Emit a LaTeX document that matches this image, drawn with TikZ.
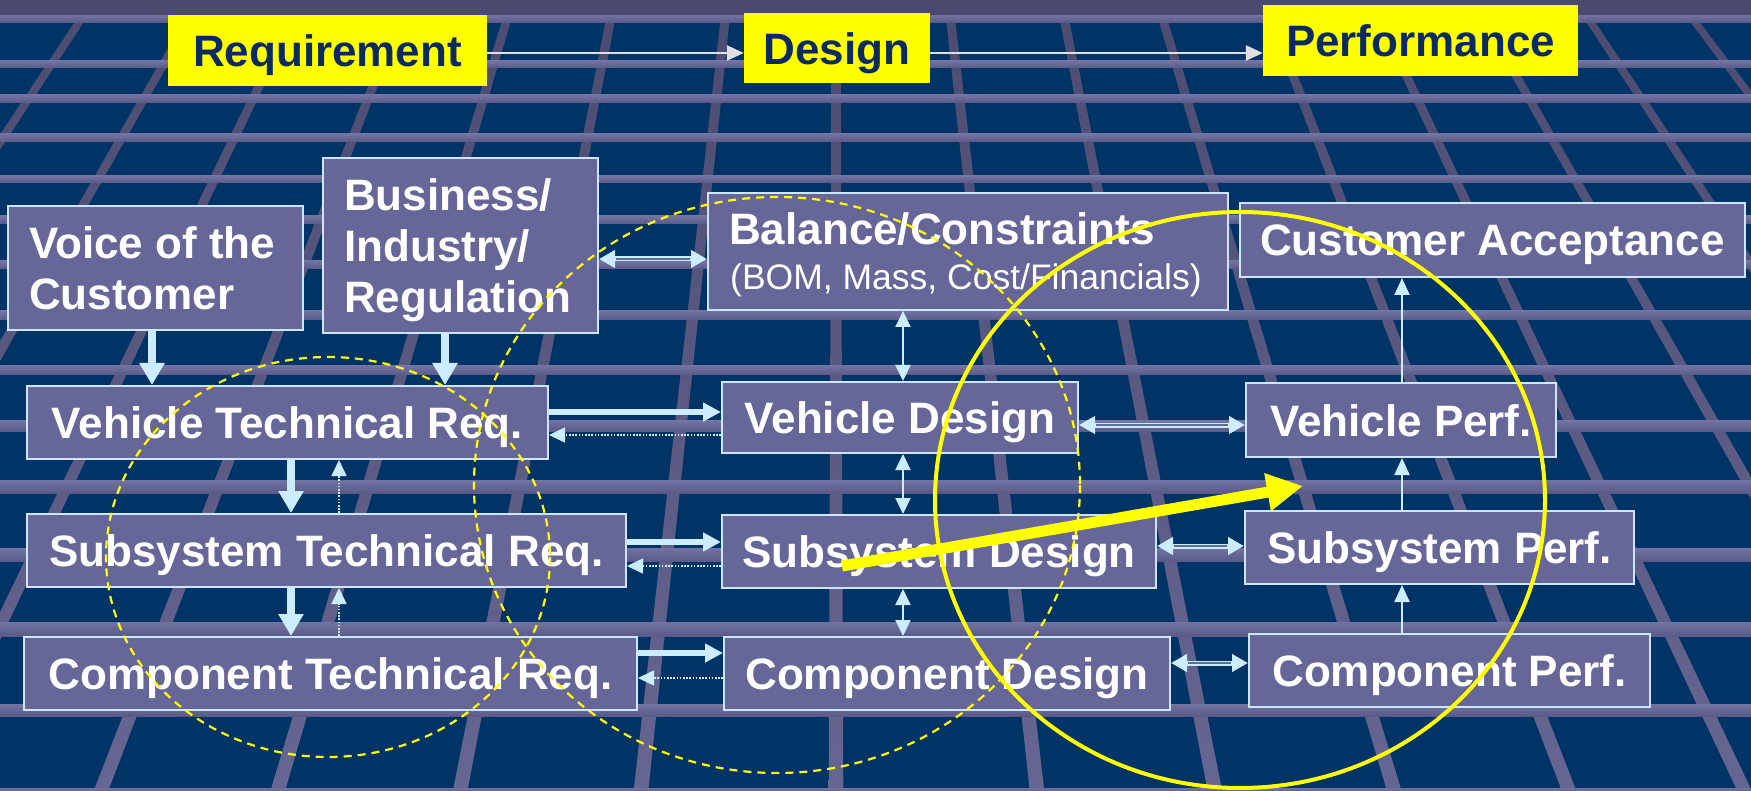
\documentclass[tikz,border=0pt]{standalone}
\usepackage{fontspec}
\setmainfont{Liberation Sans}
\usetikzlibrary{arrows.meta}
\definecolor{navy}{HTML}{003366}
\definecolor{boxfill}{HTML}{666699}
\definecolor{boxline}{HTML}{CCE6FF}
\definecolor{arrowblue}{HTML}{CCECFF}
\definecolor{bartop}{HTML}{7373A3}
\definecolor{barbot}{HTML}{5A5A88}
\definecolor{slanttop}{HTML}{4C4C72}
\definecolor{slantbot}{HTML}{666692}
\definecolor{topband}{HTML}{4A4A6E}
\definecolor{labelyellow}{HTML}{FFFF00}
\definecolor{labeltext}{HTML}{0B2B60}
\definecolor{hollow}{HTML}{5D6E9C}
\definecolor{topgray}{HTML}{E0E0E0}
\begin{document}
\begin{tikzpicture}[x=1pt,y=-1pt,
  box/.style={draw=boxline, line width=2pt, fill=boxfill, inner sep=0pt, text=white,
    font=\bfseries\fontsize{44pt}{51pt}\selectfont, text height=32pt, text depth=0pt},
  boxtext/.style={text=white, inner sep=0pt, anchor=base west,
    font=\bfseries\fontsize{44pt}{51pt}\selectfont},
  smalltext/.style={text=white, inner sep=0pt, anchor=base west,
    font=\fontsize{35.5pt}{40pt}\selectfont},
  ylabel/.style={fill=labelyellow, text=labeltext, inner sep=0pt,
    font=\bfseries\fontsize{44pt}{51pt}\selectfont, text height=33pt, text depth=0pt},
  thickV/.style={draw=arrowblue, line width=8pt, -{Triangle[length=22pt,width=24pt]}},
  thickH/.style={draw=arrowblue, line width=6pt, -{Triangle[length=18pt,width=18pt]}},
  dotret/.style={draw=arrowblue, line width=1.6pt, dash pattern=on 1.6pt off 1.6pt,
    -{Triangle[length=16pt,width=15pt]}},
  hollowH/.style={draw=arrowblue, line width=5pt,
    {Triangle[length=16pt,width=17pt]}-{Triangle[length=16pt,width=17pt]}},
  hollowin/.style={draw=hollow, line width=1.5pt, shorten <=17pt, shorten >=17pt},
  thinV/.style={draw=arrowblue, line width=2pt,
    {Triangle[length=16pt,width=15pt]}-{Triangle[length=16pt,width=15pt]}},
  thinUp/.style={draw=arrowblue, line width=2pt, -{Triangle[length=17pt,width=15pt]}},
  topArrow/.style={draw=topgray, line width=2.5pt, -{Triangle[length=17pt,width=15pt]}},
  dashring/.style={draw=labelyellow, line width=2.2pt, dash pattern=on 8pt off 6pt},
]
\useasboundingbox (0,0) rectangle (1751,791);
% background
\begin{scope}
\clip (0,0) rectangle (1751,791);
\fill[navy] (0,0) rectangle (1751,791);
\foreach \xa/\s in {-110/-0.75, 8/-0.66, 126/-0.57, 238/-0.48, 356/-0.386, 474/-0.297,
  589/-0.195, 713/-0.109, 836/0, 963/0.112, 1086/0.195, 1196/0.30, 1314/0.386,
  1432/0.473, 1547/0.57, 1662/0.66, 1776/0.75, 1890/0.84}
  \shade[top color=slanttop, bottom color=slantbot] ({\xa-130*(\s)-4.5},0) -- ({\xa-130*(\s)+4.5},0)
     -- ({\xa+661*(\s)+7.3},791) -- ({\xa+661*(\s)-7.3},791) -- cycle;
\foreach \a/\b in {15/23, 61/68, 95/103, 134/142, 176/183, 216/224, 261/269, 311/320,
  366/375, 421/431, 480/493, 548/561, 622/636, 704/716, 788/792}
  \shade[top color=bartop, bottom color=barbot] (0,\a) rectangle (1751,\b);
\fill[topband] (0,0) rectangle (1751,15);
\end{scope}

% header labels
\node[ylabel, minimum width=319pt, minimum height=71pt] (req) at (327.5,50.5) {Requirement};
\node[ylabel, minimum width=186pt, minimum height=70pt] (des) at (837,48) {Design};
\node[ylabel, minimum width=315pt, minimum height=71pt] (perf) at (1420.5,40.5) {Performance};

% boxes
\node[box, minimum width=295pt, minimum height=124pt] (voc) at (155.5,268) {};
\node[boxtext] (voc1) at (29,259) {Voice of the};
\node[boxtext] (voc2) at (29,310) {Customer};
\node[box, minimum width=275pt, minimum height=175pt] (bir) at (460.5,245.5) {};
\node[boxtext] (bir1) at (344,211) {Business/};
\node[boxtext] (bir2) at (344,262) {Industry/};
\node[boxtext] (bir3) at (344,313) {Regulation};
\node[box, minimum width=520pt, minimum height=117pt] (bal) at (968,251.5) {};
\node[boxtext] (bal1) at (729,245) {Balance/Constraints};
\node[smalltext] (bal2) at (730,290) {(BOM, Mass, Cost/Financials)};
\node[box, minimum width=505pt, minimum height=74pt] (ca) at (1492.5,240) {Customer Acceptance};
\node[box, minimum width=521pt, minimum height=73pt] (vtr) at (287.5,422.5) {Vehicle Technical Req.};
\node[box, minimum width=356pt, minimum height=71pt] (vd) at (900,417.5) {Vehicle Design};
\node[box, minimum width=310pt, minimum height=74pt] (vp) at (1401,420) {Vehicle Perf.};
\node[box, minimum width=599pt, minimum height=73pt] (str) at (326.5,550.5) {Subsystem Technical Req.};
\node[box, minimum width=434pt, minimum height=73pt] (sd) at (939,551.5) {Subsystem Design};
\node[box, minimum width=389pt, minimum height=73pt] (sp) at (1439.5,547.5) {Subsystem Perf.};
\node[box, minimum width=613pt, minimum height=73pt] (ctr) at (330.5,673.5) {Component Technical Req.};
\node[box, minimum width=446pt, minimum height=73pt] (cd) at (947,673.5) {Component Design};
\node[box, minimum width=401pt, minimum height=73pt] (cp) at (1449.5,670.5) {Component Perf.};

% helper coordinates
\coordinate (xa) at (152,0);
\coordinate (xb) at (445,0);
\coordinate (xc) at (291,0);
\coordinate (xd) at (339,0);
\coordinate (xe) at (903,0);
\coordinate (xf) at (1402,0);
\coordinate (ya) at (0,412);
\coordinate (yb) at (0,542);
\coordinate (yc) at (0,653);
\coordinate (yd) at (0,435);
\coordinate (ye) at (0,566);
\coordinate (yf) at (0,678);
\coordinate (yg) at (0,259);
\coordinate (yh) at (0,425);
\coordinate (yi) at (0,546);
\coordinate (yj) at (0,663);
\coordinate (yk) at (0,53);

% header arrows
\draw[topArrow] (req.east |- yk) -- (des.west |- yk);
\draw[topArrow] (des.east |- yk) -- (perf.west |- yk);

% requirement flow
\draw[thickV] (voc.south -| xa) -- (vtr.north -| xa);
\draw[thickV] (bir.south -| xb) -- (vtr.north -| xb);
\draw[thickV] (vtr.south -| xc) -- (str.north -| xc);
\draw[thickV] (str.south -| xc) -- (ctr.north -| xc);
\draw[dotret] (str.north -| xd) -- (vtr.south -| xd);
\draw[dotret] (ctr.north -| xd) -- (str.south -| xd);
\draw[thickH] (vtr.east |- ya) -- (vd.west |- ya);
\draw[thickH] (str.east |- yb) -- (sd.west |- yb);
\draw[thickH] (ctr.east |- yc) -- (cd.west |- yc);
\draw[dotret] (vd.west |- yd) -- (vtr.east |- yd);
\draw[dotret] (sd.west |- ye) -- (str.east |- ye);
\draw[dotret] (cd.west |- yf) -- (ctr.east |- yf);

% double arrows
\draw[hollowH] (bir.east |- yg) -- (bal.west |- yg);
\draw[hollowin] (bir.east |- yg) -- (bal.west |- yg);
\draw[hollowH] (vd.east |- yh) -- (vp.west |- yh);
\draw[hollowin] (vd.east |- yh) -- (vp.west |- yh);
\draw[hollowH] (sd.east |- yi) -- (sp.west |- yi);
\draw[hollowin] (sd.east |- yi) -- (sp.west |- yi);
\draw[hollowH] (cd.east |- yj) -- (cp.west |- yj);
\draw[hollowin] (cd.east |- yj) -- (cp.west |- yj);
\draw[thinV] (bal.south -| xe) -- (vd.north -| xe);
\draw[thinV] (vd.south -| xe) -- (sd.north -| xe);
\draw[thinV] (sd.south -| xe) -- (cd.north -| xe);

% performance roll-up
\draw[thinUp] (cp.north -| xf) -- (sp.south -| xf);
\draw[thinUp] (sp.north -| xf) -- (vp.south -| xf);
\draw[thinUp] (vp.north -| xf) -- (ca.south -| xf);

% rings
\draw[dashring] (328,557) ellipse [x radius=222, y radius=200];
\draw[dashring] (777,485) ellipse [x radius=303, y radius=288];
\draw[draw=labelyellow, line width=4pt] (1240,500) ellipse [x radius=305, y radius=288];

% big yellow arrow
\coordinate (ya1) at (842,566);
\coordinate (ya2) at (1303,486);
\draw[draw=labelyellow, line width=11pt, -{Triangle[length=36pt,width=36pt]}] (ya1) -- (ya2);
\end{tikzpicture}
\end{document}
